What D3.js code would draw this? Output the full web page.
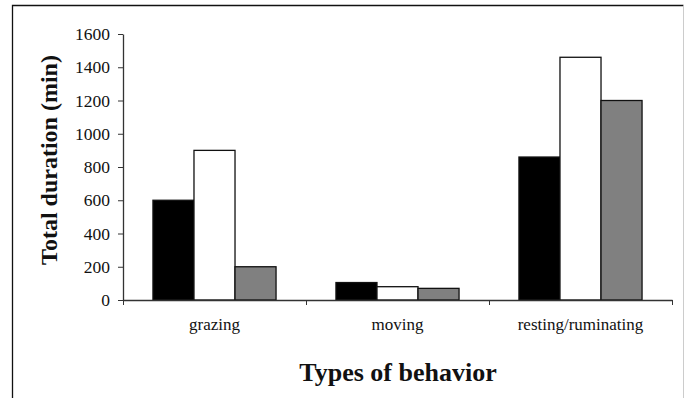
<!DOCTYPE html>
<html>
<head>
<meta charset="utf-8">
<script src="https://cdn.jsdelivr.net/npm/d3@7"></script>
<style>
  html, body { margin: 0; padding: 0; background: #fff; }
  #chart { width: 686px; height: 398px; }
</style>
</head>
<body>
<div id="chart"></div>
<script>
// behaviours on the x axis
const categories = ['grazing', 'moving', 'resting/ruminating'];
// three bar series per behaviour (black, white, grey)
const seriesBlack = [600, 105, 860];
const seriesWhite = [900, 80, 1460];
const seriesGrey = [200, 70, 1200];
const yTicks = [0, 200, 400, 600, 800, 1000, 1200, 1400, 1600];

const series = [
  { key: 'black', fill: '#000000', values: seriesBlack },
  { key: 'white', fill: '#ffffff', values: seriesWhite },
  { key: 'grey', fill: '#808080', values: seriesGrey }
];

const width = 686, height = 398;
const margin = { top: 34, right: 14, bottom: 98, left: 123 };
const w = width - margin.left - margin.right;
const h = height - margin.top - margin.bottom;

const svg = d3.select('#chart').append('svg')
  .attr('width', width)
  .attr('height', height);

// frame around the figure (bottom edge is cut off)
svg.append('path')
  .attr('d', 'M12.5,398 L12.5,5.5 L683.5,5.5')
  .attr('fill', 'none').attr('stroke', '#111').attr('stroke-width', 1.3);
svg.append('line')
  .attr('x1', 683.5).attr('x2', 683.5).attr('y1', 5.5).attr('y2', 398)
  .attr('stroke', '#ccc');

const g = svg.append('g').attr('transform', `translate(${margin.left},${margin.top})`);

const x0 = d3.scaleBand().domain(categories).range([0, w]).padding(0);
const x1 = d3.scaleBand().domain(series.map(s => s.key))
  .range([0, x0.bandwidth()]).paddingInner(0).paddingOuter(0.73);
const y = d3.scaleLinear().domain([0, 1600]).range([h, 0]);

const rows = categories.map((c, i) => ({
  cat: c,
  bars: series.map(s => ({ key: s.key, fill: s.fill, value: s.values[i] }))
}));

g.selectAll('g.grp')
  .data(rows)
  .join('g')
  .attr('class', 'grp')
  .attr('transform', d => `translate(${x0(d.cat)},0)`)
  .selectAll('rect')
  .data(d => d.bars)
  .join('rect')
  .attr('x', d => x1(d.key))
  .attr('y', d => y(d.value))
  .attr('width', x1.bandwidth())
  .attr('height', d => h - y(d.value))
  .attr('fill', d => d.fill)
  .attr('stroke', '#111')
  .attr('stroke-width', 1.3);

// y axis
const yAxis = g.append('g')
  .call(d3.axisLeft(y).tickValues(yTicks).tickFormat(d3.format('d'))
    .tickSize(5).tickPadding(8).tickSizeOuter(0));
yAxis.selectAll('text')
  .attr('font-family', '"Liberation Serif", serif')
  .attr('font-size', 17.5)
  .attr('fill', '#111');

// x axis: labels centred, ticks at the group boundaries
const xAxis = g.append('g')
  .attr('transform', `translate(0,${h})`)
  .call(d3.axisBottom(x0).tickSize(0).tickPadding(18).tickSizeOuter(0));
xAxis.selectAll('text')
  .attr('font-family', '"Liberation Serif", serif')
  .attr('font-size', 17)
  .attr('fill', '#111');

const bounds = categories.map(c => x0(c)).concat([x0.range()[1]]);
g.append('g')
  .selectAll('line')
  .data(bounds)
  .join('line')
  .attr('x1', d => d + 0.5).attr('x2', d => d + 0.5)
  .attr('y1', h).attr('y2', h + 5)
  .attr('stroke', '#333');

g.selectAll('.domain').attr('stroke', '#333').attr('stroke-width', 1.3);
g.selectAll('.tick line').attr('stroke', '#333');

// axis titles
svg.append('text')
  .attr('x', 398)
  .attr('y', 381)
  .attr('text-anchor', 'middle')
  .attr('font-family', '"Liberation Serif", serif')
  .attr('font-weight', 'bold')
  .attr('font-size', 26)
  .attr('fill', '#111')
  .text('Types of behavior');

svg.append('text')
  .attr('transform', 'translate(57,160) rotate(-90)')
  .attr('text-anchor', 'middle')
  .attr('font-family', '"Liberation Serif", serif')
  .attr('font-weight', 'bold')
  .attr('font-size', 24)
  .attr('fill', '#111')
  .text('Total duration (min)');
</script>
</body>
</html>
